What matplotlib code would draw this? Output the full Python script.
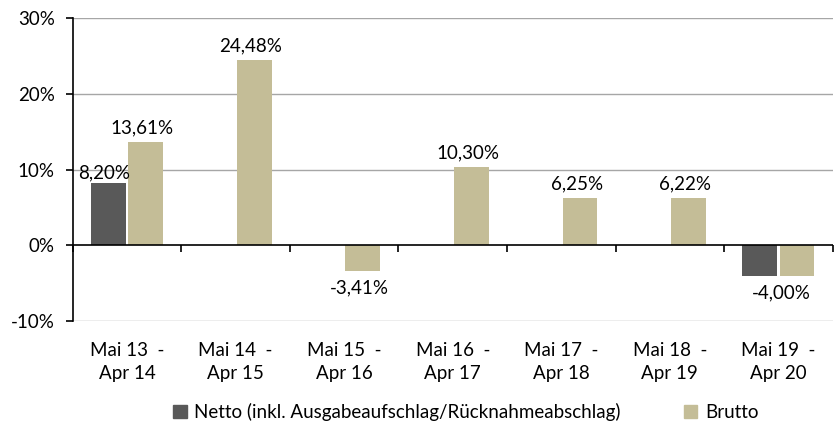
import matplotlib
matplotlib.use("Agg")
import matplotlib.pyplot as plt
import numpy as np
from matplotlib.patches import Patch

plt.rcParams['font.family'] = ['Lato', 'DejaVu Sans']

categories = ["Mai 13  -\nApr 14", "Mai 14  -\nApr 15", "Mai 15  -\nApr 16", "Mai 16  -\nApr 17",
              "Mai 17  -\nApr 18", "Mai 18  -\nApr 19", "Mai 19  -\nApr 20"]
netto = [8.20, np.nan, np.nan, np.nan, np.nan, np.nan, -4.00]
brutto = [13.61, 24.48, -3.41, 10.30, 6.25, 6.22, -4.00]
netto_label_show = [True, False, False, False, False, False, False]
yticks = [-10, 0, 10, 20, 30]

c_netto = '#595959'
c_brutto = '#C4BD97'
grid_c = '#A6A6A6'
FS = 13.5

def fmt(v):
    return f"{v:.2f}".replace('.', ',') + '%'

fig = plt.figure(figsize=(8.38, 4.21), dpi=100)
ax = fig.add_axes([0.0868, 0.2375, 0.9069, 0.7195])

x = np.arange(len(categories))
w = 0.32
off = 0.172
bn = ax.bar(x - off, netto, w, color=c_netto, zorder=3)
bb = ax.bar(x + off, brutto, w, color=c_brutto, zorder=3)

ax.set_xlim(-0.5, len(categories) - 0.5)
ax.set_ylim(-10, 30)
ax.set_yticks(yticks)
ax.set_yticklabels([f"{t}%" for t in yticks])
for t in yticks:
    if t != 0:
        ax.axhline(t, color=grid_c, lw=1.0, zorder=1)
ax.axhline(0, color='black', lw=1.2, zorder=4)

for s in ['top', 'right', 'bottom']:
    ax.spines[s].set_visible(False)
ax.spines['left'].set_color('black')
ax.spines['left'].set_linewidth(1.2)
ax.tick_params(axis='y', length=5, width=1.2, pad=8, labelsize=FS, colors='black')

ax.set_xticks(x)
ax.set_xticklabels(categories, fontsize=FS, linespacing=1.45)
ax.tick_params(axis='x', length=0, pad=15)

sec = ax.secondary_xaxis(0.25)
sec.set_xticks(np.arange(len(categories) + 1) - 0.5)
sec.tick_params(axis='x', length=5, width=1.2, labelbottom=False, color='black')
sec.spines['bottom'].set_visible(False)

# labels
for i, v in enumerate(netto):
    if netto_label_show[i] and not np.isnan(v):
        ax.annotate(fmt(v), (x[i] - off - 0.04, v), xytext=(0, 1 if v >= 0 else -4),
                    textcoords='offset points', ha='center',
                    va='bottom' if v >= 0 else 'top', fontsize=FS, zorder=5)
for i, v in enumerate(brutto):
    xc = x[i] + off - 0.03
    if not np.isnan(netto[i]) and netto[i] < 0:
        xc = x[i] + 0.03
    ax.annotate(fmt(v), (xc, v), xytext=(0, 4 if v >= 0 else -6),
                textcoords='offset points', ha='center',
                va='bottom' if v >= 0 else 'top', fontsize=FS, zorder=5)

handles = [Patch(color=c_netto), Patch(color=c_brutto)]
fig.legend(handles, ["Netto (inkl. Ausgabeaufschlag/Rücknahmeabschlag)", "Brutto"],
           loc='lower center', bbox_to_anchor=(0.556, -0.04), ncol=2, frameon=False,
           fontsize=FS, handlelength=0.7, handleheight=0.7, handletextpad=0.4,
           columnspacing=3.4)

fig.savefig('out.png', dpi=100)
